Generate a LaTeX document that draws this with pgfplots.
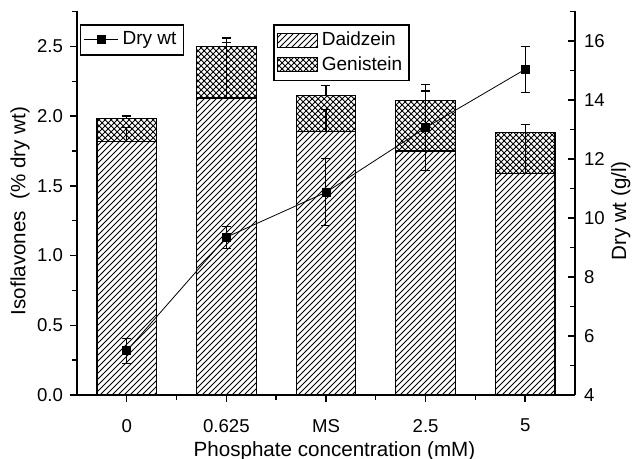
\documentclass[border=0pt]{standalone}
\usepackage{pgfplots}
\pgfplotsset{compat=1.18}
\usepackage{fontspec}
\setmainfont{Liberation Sans}
\usetikzlibrary{patterns}
\begin{document}
\begin{tikzpicture}
\path[use as bounding box] (-38.5pt,-32pt) rectangle (278pt,197.5pt);
\pgfplotsset{
  common/.style={
    width=249pt, height=191.75pt, scale only axis,
    xmin=-0.5, xmax=4.5,
    axis line style={line width=0.9pt},
    every tick/.style={black, line width=0.7pt},
    major tick length=3.5pt, minor tick length=2.5pt,
    ticklabel style={font=\fontsize{9.3}{11}\selectfont},
    /pgf/number format/assume math mode=true,
    label style={font=\fontsize{10.3}{12}\selectfont},
  },
  errs/.style={draw=none, mark=none, forget plot,
    error bars/.cd, y dir=plus, y explicit,
    error bar style={draw=black, solid, line width=0.6pt},
    error mark=-,
    error mark options={draw=black, solid, rotate=90, mark size=2.25pt, line width=0.6pt}},
}
\begin{axis}[common,
  ymin=0, ymax=2.75,
  axis x line*=bottom, axis y line*=left,
  tick align=outside,
  xtick={0,1,2,3,4}, xticklabels={0,0.625,MS,2.5,5},
  minor xtick={0.5,1.5,2.5,3.5},
  xticklabel style={yshift=-5pt},
  ytick={0,0.5,...,2.5}, minor ytick={0.25,0.75,...,2.75},
  yticklabel style={/pgf/number format/.cd, fixed, fixed zerofill, precision=1},
  xlabel={Phosphate concentration (mM)},
  ylabel={Isoflavones\ \ (\% dry wt)},
  x label style={at={(axis description cs:0.517,-0.147)}, anchor=center},
  y label style={at={(axis description cs:-0.1145,0.48)}, anchor=center},
  legend image code/.code={\draw[#1] (0pt,-3.5pt) rectangle (20pt,3.5pt);},
  legend style={at={(rel axis cs:0.394,0.967)}, anchor=north west, draw=black, line width=0.7pt,
    font=\fontsize{9.5}{11}\selectfont, inner sep=1.5pt, row sep=0pt},
  legend cell align=left,
]
\addlegendimage{draw=black, line width=0.5pt, pattern=north east lines}
\addlegendentry{Daidzein}
\addlegendimage{draw=black, line width=0.5pt, pattern=crosshatch}
\addlegendentry{Genistein}
% total (Daidzein + Genistein)
\addplot[ybar, bar width=0.6, bar shift=0pt, draw=black, line width=0.6pt,
  preaction={fill=white}, pattern=crosshatch, forget plot]
  coordinates {(0,1.98) (1,2.50) (2,2.15) (3,2.11) (4,1.88)};
% Daidzein
\addplot[ybar, bar width=0.6, bar shift=0pt, draw=black, line width=0.6pt,
  preaction={fill=white}, pattern=north east lines, forget plot]
  coordinates {(0,1.82) (1,2.13) (2,1.89) (3,1.75) (4,1.59)};
% error bars
\addplot[errs]
  coordinates {(0,1.82) +- (0,0.10) (1,2.13) +- (0,0.40) (2,1.89) +- (0,0.16) (3,1.75) +- (0,0.43) (4,1.59) +- (0,0.35)};
\addplot[errs]
  coordinates {(0,1.98) +- (0,0.02) (1,2.50) +- (0,0.06) (2,2.15) +- (0,0.07) (3,2.11) +- (0,0.07) (4,1.88) +- (0,0.06)};
\end{axis}
\begin{axis}[common,
  ymin=4, ymax=17,
  axis x line=none, axis y line*=right,
  ytick align=inside,
  ytick={4,6,...,16}, minor ytick={5,7,...,17},
  yticklabel style={xshift=1pt},
  ylabel={Dry wt (g/l)},
  y label style={at={(axis description cs:1.092,0.48)}, anchor=center},
  legend style={at={(rel axis cs:0.006,0.967)}, anchor=north west, draw=black, line width=0.7pt,
    font=\fontsize{9.5}{11}\selectfont, inner sep=1.5pt},
]
\addplot[black, line width=0.4pt, mark=square*, mark size=2pt,
  error bars/.cd, y dir=both, y explicit, error bar style={line width=0.5pt},
  error mark=-,
  error mark options={black, solid, rotate=90, mark size=2.25pt, line width=0.5pt}]
  coordinates {(0,5.50) +- (0,0.43) (1,9.35) +- (0,0.37) (2,10.87) +- (0,1.13) (3,13.06) +- (0,1.45) (4,15.04) +- (0,0.77)};
\addlegendentry{Dry wt}
\end{axis}
\end{tikzpicture}
\end{document}
